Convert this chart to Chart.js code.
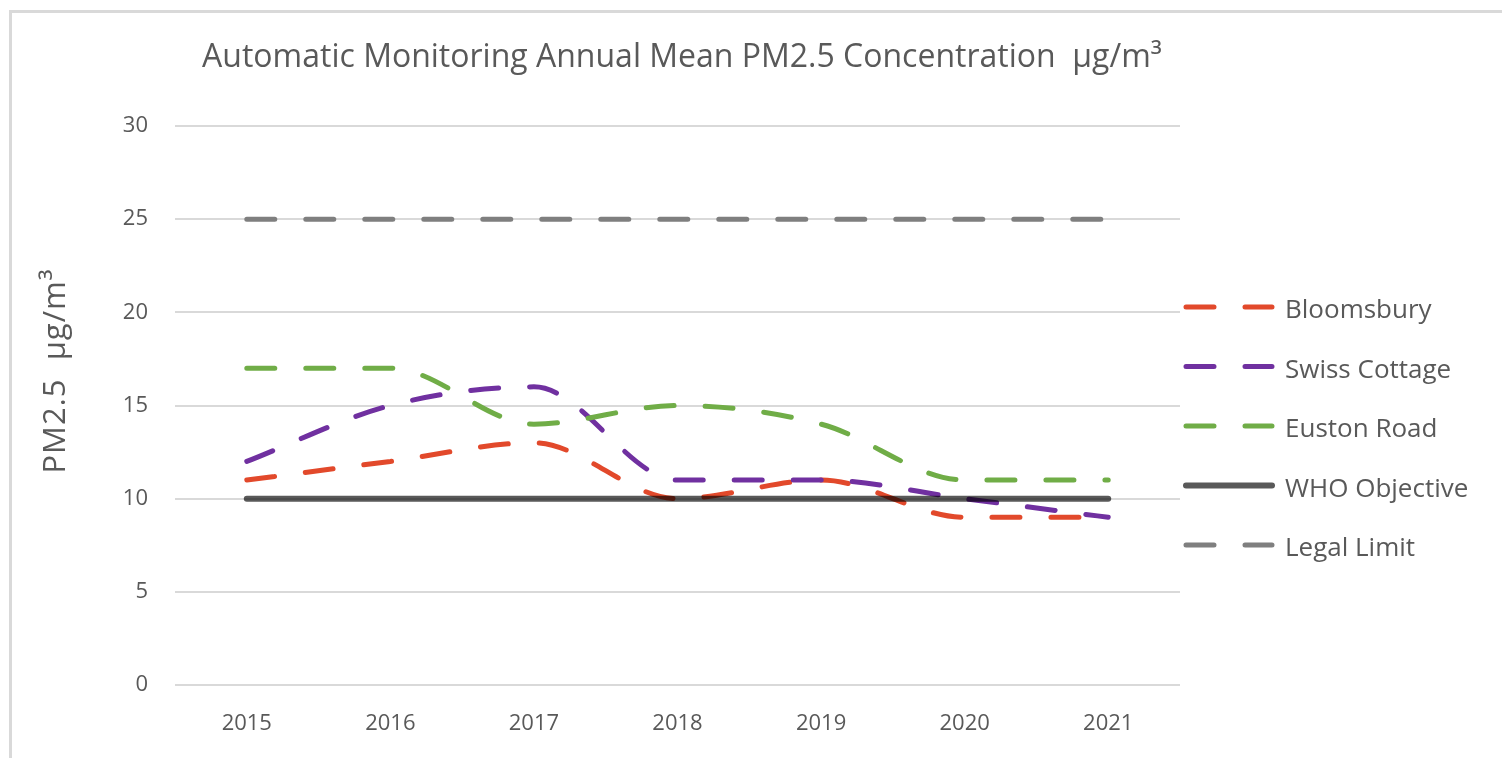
<!DOCTYPE html>
<html><head><meta charset="utf-8">
<script src="https://cdn.jsdelivr.net/npm/chart.js@4/dist/chart.umd.min.js"></script>
<style>
html,body{margin:0;padding:0;background:#fff;}
#wrap{position:relative;width:1502px;height:758px;overflow:hidden;}
#frame{position:absolute;left:9px;top:10px;width:1500px;height:760px;border-top:3px solid #d9d9d9;border-left:3px solid #d9d9d9;}
canvas{position:absolute;left:0;top:0;}
</style></head>
<body><div id="wrap"><div id="frame"></div><canvas id="c" width="1502" height="758"></canvas></div>
<script>
const years = ['2015', '2016', '2017', '2018', '2019', '2020', '2021'];
const bloomsbury = [11, 12, 13, 10, 11, 9, 9];
const swissCottage = [12, 15, 16, 11, 11, 10, 9];
const eustonRoad = [17, 17, 14, 15, 14, 11, 11];
const whoObjective = [10, 10, 10, 10, 10, 10, 10];
const legalLimit = [25, 25, 25, 25, 25, 25, 25];
const yTicks = [0, 5, 10, 15, 20, 25, 30];
const chartTitle = 'Automatic Monitoring Annual Mean PM2.5 Concentration  µg/m³';
const yTitle = 'PM2.5  µg/m³';

const FONT = "'Open Sans', sans-serif";
const TXT = '#595959';

const customText = {
  id: 'customText',
  afterDraw(chart) {
    const ctx = chart.ctx;
    ctx.save();
    // title
    ctx.fillStyle = TXT;
    ctx.font = "32px " + FONT;
    ctx.textAlign = 'center';
    ctx.textBaseline = 'alphabetic';
    ctx.fillText(chartTitle, 682, 67);
    // y axis title
    ctx.save();
    ctx.translate(65, 371);
    ctx.rotate(-Math.PI / 2);
    ctx.font = "31px " + FONT;
    try { ctx.letterSpacing = '1px'; } catch (e) {}
    ctx.fillText(yTitle, 0, 0);
    ctx.restore();
    // legend
    const x0 = 1186, x1 = 1272, tx = 1285;
    chart.data.datasets.forEach((ds, i) => {
      const y = 307 + i * 59.5;
      ctx.beginPath();
      ctx.strokeStyle = ds.borderColor;
      ctx.lineWidth = ds.borderWidth;
      ctx.lineCap = 'round';
      ctx.setLineDash(ds.borderDash || []);
      ctx.moveTo(x0, y);
      ctx.lineTo(x1, y);
      ctx.stroke();
      ctx.setLineDash([]);
      ctx.fillStyle = TXT;
      ctx.font = "26px " + FONT;
      ctx.textBaseline = 'alphabetic';
      ctx.textAlign = 'left';
      ctx.fillText(ds.label, tx, y + 11);
    });
    ctx.restore();
  }
};

const dash = [28, 31];
new Chart(document.getElementById('c'), {
  type: 'line',
  data: {
    labels: years,
    datasets: [
      { label: 'Bloomsbury', data: bloomsbury, borderColor: '#E2492B', borderWidth: 5, borderDash: dash, borderCapStyle: 'round', cubicInterpolationMode: 'monotone', pointRadius: 0, order: 5 },
      { label: 'Swiss Cottage', data: swissCottage, borderColor: '#7030A0', borderWidth: 5, borderDash: dash, borderCapStyle: 'round', cubicInterpolationMode: 'monotone', pointRadius: 0, order: 4 },
      { label: 'Euston Road', data: eustonRoad, borderColor: '#70AD47', borderWidth: 5, borderDash: dash, borderCapStyle: 'round', cubicInterpolationMode: 'monotone', pointRadius: 0, order: 3 },
      { label: 'WHO Objective', data: whoObjective, borderColor: 'rgba(0,0,0,0.65)', borderWidth: 6, borderCapStyle: 'round', tension: 0, pointRadius: 0, order: 2 },
      { label: 'Legal Limit', data: legalLimit, borderColor: '#7F7F7F', borderWidth: 5, borderDash: dash, borderCapStyle: 'round', tension: 0, pointRadius: 0, order: 1 }
    ]
  },
  options: {
    responsive: false,
    animation: false,
    devicePixelRatio: 1,
    layout: { padding: { left: 10, right: 322, top: 126, bottom: 0 } },
    plugins: {
      legend: { display: false },
      tooltip: { enabled: false },
      title: { display: false }
    },
    scales: {
      x: {
        offset: true,
        grid: { display: false, drawTicks: false },
        border: { display: false },
        ticks: { color: TXT, font: { family: FONT, size: 22 }, padding: 26, maxRotation: 0 },
        afterFit(s) { s.height = 73; }
      },
      y: {
        min: 0, max: 30,
        afterBuildTicks(s) { s.ticks = yTicks.map(v => ({ value: v })); },
        grid: { color: '#D9D9D9', lineWidth: 2, drawTicks: false },
        border: { display: false },
        ticks: { color: TXT, font: { family: FONT, size: 22 }, padding: 27 },
        afterFit(s) { s.width = 165; }
      }
    }
  },
  plugins: [customText]
});
</script>
</body></html>
